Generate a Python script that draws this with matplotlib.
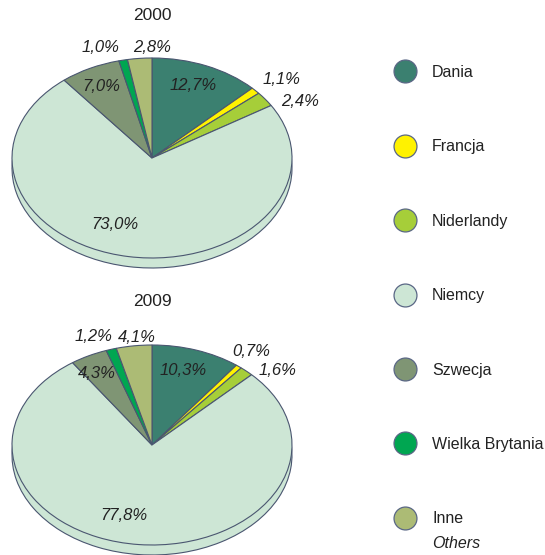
import numpy as np
import matplotlib.pyplot as plt
from matplotlib.lines import Line2D

plt.rcParams['font.family'] = ['Liberation Sans', 'DejaVu Sans']

# data
countries = ['Dania', 'Francja', 'Niderlandy', 'Niemcy', 'Szwecja',
             'Wielka Brytania', 'Inne']
share_2000 = [12.7, 1.1, 2.4, 73.0, 7.0, 1.0, 2.8]
share_2009 = [10.3, 0.7, 1.6, 77.8, 4.3, 1.2, 4.1]
years = ['2000', '2009']

colors = ['#3b8070', '#fff200', '#a6ce39', '#cde6d5', '#7f9574', '#00a651', '#acbb75']

# label placement (angle in degrees, radius) for each wedge label
lab_2000 = [(67.9, 0.78), (40.3, 1.21), (27.9, 1.20), (248.5, 0.72),
            (116.7, 0.80), (108.5, 1.17), (90.0, 1.11)]
lab_2009 = [(73.6, 0.78), (52.8, 1.17), (39.8, 1.17), (254.0, 0.73),
            (119.0, 0.82), (111.0, 1.16), (95.7, 1.085)]

W, H = 545, 555
RX, RY = 140.0, 100.0   # pixel radii of the tilted pie
DEPTH = 0.1

fig = plt.figure(figsize=(W / 100, H / 100), dpi=100)


def draw_pie(vals, labpos, year, cx, cy, y0, y1):
    x0, x1 = 0, 335
    ax = fig.add_axes([x0 / W, 1 - y1 / H, (x1 - x0) / W, (y1 - y0) / H])
    wp = dict(edgecolor='#4a5670', linewidth=0.8)
    # side (depth) first, then the top face
    ax.pie(vals, colors=colors, startangle=90, counterclock=False,
           center=(0, -DEPTH), wedgeprops=wp)
    ax.pie(vals, colors=colors, startangle=90, counterclock=False,
           center=(0, 0), wedgeprops=wp)
    ax.set_aspect('auto')
    ax.set_xlim((x0 - cx) / RX, (x1 - cx) / RX)
    ax.set_ylim((cy - y1) / RY, (cy - y0) / RY)
    ax.axis('off')
    for v, (a, r) in zip(vals, labpos):
        t = np.deg2rad(a)
        ax.text(r * np.cos(t), r * np.sin(t), f'{v:.1f}%'.replace('.', ','),
                ha='center', va='center', fontsize=12, style='italic',
                color='#222222')
    ax.text(0, 1.43, year, ha='center', va='center', fontsize=12.5,
            color='#222222')


draw_pie(share_2000, lab_2000, years[0], 152, 158, 0, 290)
draw_pie(share_2009, lab_2009, years[1], 152, 445, 290, 555)

handles = [Line2D([], [], linestyle='none', marker='o', markersize=16.5,
                  markerfacecolor=c, markeredgecolor='#5a6785',
                  markeredgewidth=0.9) for c in colors]
leg = fig.legend(handles, countries, loc='upper left',
                 bbox_to_anchor=(393 / W, 1 - 65 / H), frameon=False,
                 fontsize=11.5, handlelength=1.5, handletextpad=0.95,
                 labelspacing=3.72, borderpad=0, borderaxespad=0,
                 labelcolor='#222222')

# English subtitle under the last legend entry
fig.canvas.draw()
tb = leg.get_texts()[-1].get_window_extent()
fig.text(tb.x0 / W, (tb.y0 - 10) / H, 'Others', fontsize=11.5, style='italic',
         color='#222222', ha='left', va='top')

fig.savefig('out.png', dpi=100)
